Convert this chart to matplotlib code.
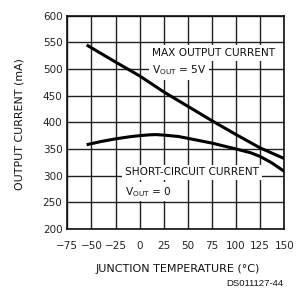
import matplotlib
matplotlib.use("Agg")
import matplotlib.pyplot as plt

# Data
max_temp = [-55, -25, 0, 25, 50, 75, 100, 125, 150]
max_current = [545, 513, 487, 457, 430, 403, 377, 352, 332]

sc_temp = [-55, -40, -25, -10, 0, 10, 17, 25, 40, 50, 75, 100, 115, 125, 137, 150]
sc_current = [358, 364, 369, 373, 375, 376.5, 377, 376, 373.5, 370, 361, 350, 343, 336, 324, 308]

x_ticks = [-75, -50, -25, 0, 25, 50, 75, 100, 125, 150]
y_ticks = [200, 250, 300, 350, 400, 450, 500, 550, 600]

plt.rcParams['font.family'] = ['DejaVu Sans']
fig = plt.figure(figsize=(2.97, 2.90), dpi=100)
ax = fig.add_axes([0.2266, 0.2103, 0.7306, 0.7359])

ax.set_xlim(-75, 150)
ax.set_ylim(200, 600)
ax.set_xticks(x_ticks)
ax.set_yticks(y_ticks)
ax.set_xticklabels([str(t).replace('-', '\u2212') for t in x_ticks])
ax.set_yticklabels([str(t) for t in y_ticks])
ax.tick_params(axis='both', length=0, labelsize=7.5, colors='#222222')
ax.tick_params(axis='x', pad=8.5)
ax.tick_params(axis='y', pad=3.5)
ax.grid(True, color='#222222', linewidth=1.0)
ax.set_axisbelow(True)
for s in ax.spines.values():
    s.set_linewidth(1.2)
    s.set_color('#111111')

ax.plot(max_temp, max_current, color='black', linewidth=2.2, zorder=3, solid_capstyle='butt')
ax.plot(sc_temp, sc_current, color='black', linewidth=2.2, zorder=3, solid_capstyle='butt')

box = dict(facecolor='white', edgecolor='none', pad=2)
fs = 7.6
ax.text(13, 530, 'MAX OUTPUT CURRENT', fontsize=fs, ha='left', va='center', bbox=box, zorder=4, color='#111111')
ax.text(13, 498, r'$\mathregular{V_{OUT}}$ = 5V', fontsize=fs, ha='left', va='center', bbox=box, zorder=4, color='#111111')
ax.text(-15, 306, 'SHORT-CIRCUIT CURRENT', fontsize=fs, ha='left', va='center', bbox=box, zorder=4, color='#111111')
ax.text(-15, 270, r'$\mathregular{V_{OUT}}$ = 0', fontsize=fs, ha='left', va='center', bbox=box, zorder=4, color='#111111')

fig.text(20 / 297, 1 - 124 / 290, 'OUTPUT CURRENT (mA)', rotation=90, fontsize=7.9, ha='center', va='center', color='#111111')
fig.text(178 / 297, 1 - 268.5 / 290, 'JUNCTION TEMPERATURE (\u00b0C)', fontsize=8.0, ha='center', va='center', color='#111111')
fig.text(283 / 297, 1 - 283.5 / 290, 'DS011127-44', fontsize=6.8, ha='right', va='center',
         family=['Liberation Sans'], color='#111111')

fig.savefig('out.png', dpi=100)
